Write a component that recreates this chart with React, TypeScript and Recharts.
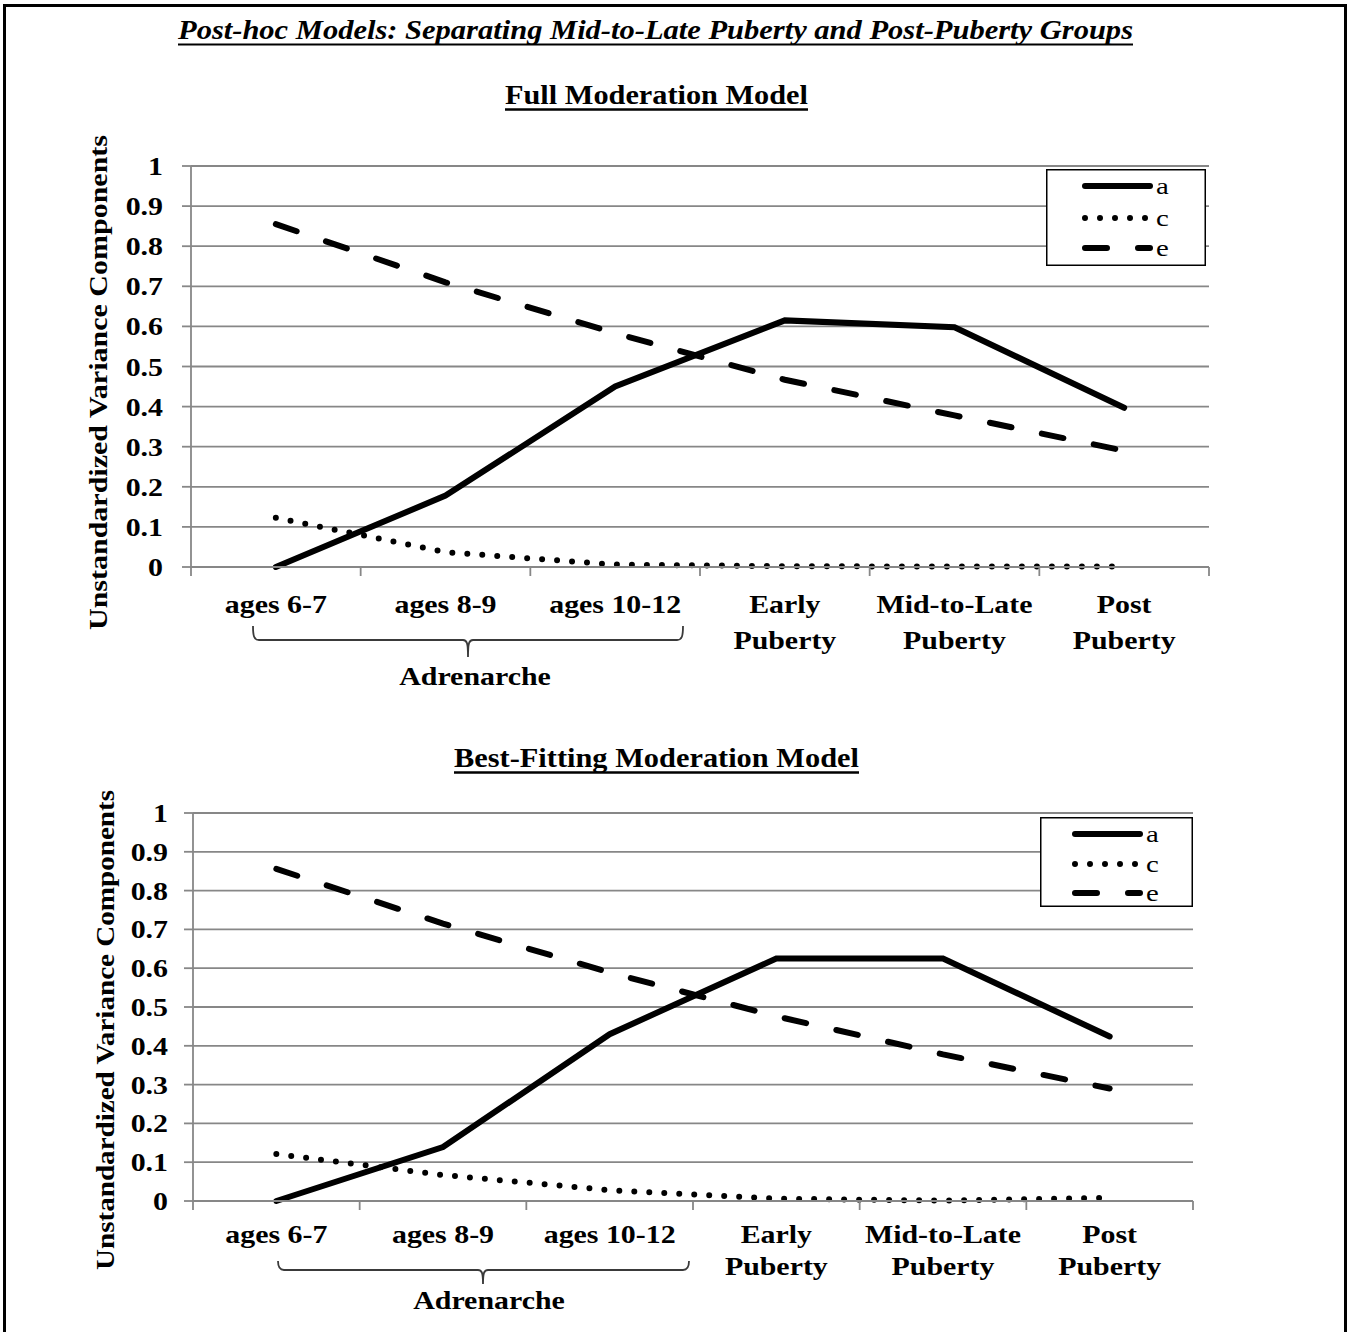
import React from "react";
import { LineChart, Line, XAxis, YAxis, CartesianGrid } from "recharts";

// categories shared by both panels ("\n" = second label line)
const CATEGORIES = ["ages 6-7", "ages 8-9", "ages 10-12", "Early\nPuberty", "Mid-to-Late\nPuberty", "Post\nPuberty"];

// Full Moderation Model
const FULL_A = [0, 0.178, 0.45, 0.615, 0.598, 0.397];
const FULL_C = [0.123, 0.037, 0.006, 0.002, 0.001, 0.001];
const FULL_E = [0.855, 0.71, 0.583, 0.467, 0.378, 0.29];

// Best-Fitting Moderation Model
const BEST_A = [0, 0.139, 0.43, 0.625, 0.625, 0.424];
const BEST_C = [0.121, 0.067, 0.028, 0.006, 0.001, 0.008];
const BEST_E = [0.856, 0.715, 0.589, 0.476, 0.378, 0.29];

const Y_TICKS = [0, 0.1, 0.2, 0.3, 0.4, 0.5, 0.6, 0.7, 0.8, 0.9, 1];
const SERIES_KEYS = ["a", "c", "e"];

const SERIF = '"Liberation Serif", "Times New Roman", serif';
const GRID = "#878787";
const STRETCH = 1.15;

const LINE_STYLE: any = {
  a: { strokeWidth: 6, strokeLinecap: "round" },
  c: { strokeWidth: 6, strokeDasharray: "0 15", strokeLinecap: "round" },
  e: { strokeWidth: 6, strokeDasharray: "22 31", strokeLinecap: "round" },
};

// boundaries get tick marks, centers get the labels
const X_TICKS = CATEGORIES.flatMap((_, i) => [i, i + 0.5]).concat(CATEGORIES.length);

const fmt = (v: number) => String(Math.round(v * 10) / 10);

function XTick({ x, y, payload, firstGap, lineGap }: any) {
  const v = payload.value;
  if (Number.isInteger(v)) {
    return <line x1={x} y1={y} x2={x} y2={y + 9} stroke={GRID} strokeWidth={1.8} />;
  }
  const lines = CATEGORIES[Math.floor(v)].split("\n");
  return (
    <g transform={`translate(${x},${y}) scale(${STRETCH},1)`}>
      {lines.map((t, i) => (
        <text key={i} x={0} y={firstGap + i * lineGap} textAnchor="middle" fontFamily={SERIF} fontWeight="bold" fontSize={26} fill="#000">
          {t}
        </text>
      ))}
    </g>
  );
}

function YTick({ x, y, payload }: any) {
  return (
    <text transform={`translate(${x},${y}) scale(${STRETCH},1)`} textAnchor="end" dy={9} fontFamily={SERIF} fontWeight="bold" fontSize={26} fill="#000">
      {fmt(payload.value)}
    </text>
  );
}

function Panel({ a, c, e, top, height, margin, yAxisWidth, xAxisHeight, tickMargin, firstGap, lineGap }: any) {
  const rows = CATEGORIES.map((label, i) => ({ pos: i + 0.5, label, a: a[i], c: c[i], e: e[i] }));
  return (
    <div style={{ position: "absolute", left: 0, top }}>
      <LineChart width={1351} height={height} data={rows} margin={margin}>
        <CartesianGrid vertical={false} stroke={GRID} strokeWidth={1.8} />
        <XAxis
          dataKey="pos"
          type="number"
          domain={[0, CATEGORIES.length]}
          ticks={X_TICKS}
          interval={0}
          height={xAxisHeight}
          tickLine={false}
          tickSize={0}
          tickMargin={0}
          axisLine={{ stroke: GRID, strokeWidth: 1.8 }}
          tick={(p: any) => <XTick {...p} firstGap={firstGap} lineGap={lineGap} />}
        />
        <YAxis
          type="number"
          domain={[0, 1]}
          ticks={Y_TICKS}
          interval={0}
          width={yAxisWidth}
          tickSize={9}
          tickMargin={tickMargin}
          tickLine={{ stroke: GRID, strokeWidth: 1.8 }}
          axisLine={{ stroke: GRID, strokeWidth: 1.8 }}
          tick={<YTick />}
        />
        {SERIES_KEYS.map((k) => (
          <Line key={k} dataKey={k} type="linear" stroke="#000" dot={false} activeDot={false} isAnimationActive={false} {...LINE_STYLE[k]} />
        ))}
      </LineChart>
    </div>
  );
}

function LegendBox({ left, top, width, height, rowY, x1, x2, textX }: any) {
  return (
    <svg width={width} height={height} style={{ position: "absolute", left, top }}>
      <rect x={0.75} y={0.75} width={width - 1.5} height={height - 1.5} fill="#fff" stroke="#000" strokeWidth={1.5} />
      {SERIES_KEYS.map((k, i) => (
        <g key={k}>
          <line x1={x1} y1={rowY[i]} x2={x2} y2={rowY[i]} stroke="#000" {...LINE_STYLE[k]} />
          <text transform={`translate(${textX},${rowY[i] + 8}) scale(1.2,1)`} fontFamily={SERIF} fontSize={24} fill="#000">
            {k}
          </text>
        </g>
      ))}
    </svg>
  );
}

function Bracket({ left, right, mid, topY, barY, tipY }: any) {
  const d = `M${left},${topY} C${left},${barY - 4} ${left + 1},${barY} ${left + 6},${barY} L${mid - 5},${barY} C${mid - 1},${barY} ${mid},${barY + 3} ${mid},${tipY} C${mid},${barY + 3} ${mid + 1},${barY} ${mid + 5},${barY} L${right - 6},${barY} C${right - 1},${barY} ${right},${barY - 4} ${right},${topY}`;
  return <path d={d} fill="none" stroke="#3a3a3a" strokeWidth={1.8} />;
}

export default function App() {
  const bold = { fontFamily: SERIF, fontWeight: "bold" as const, fill: "#000" };
  return (
    <div style={{ position: "absolute", left: 0, top: 0, width: 1351, height: 1332, overflow: "hidden", background: "#fff" }}>
      <Panel
        a={FULL_A} c={FULL_C} e={FULL_E}
        top={0} height={700}
        margin={{ top: 166, right: 142, bottom: 0, left: 0 }}
        yAxisWidth={191} xAxisHeight={133} tickMargin={19}
        firstGap={46} lineGap={36}
      />
      <Panel
        a={BEST_A} c={BEST_C} e={BEST_E}
        top={700} height={632}
        margin={{ top: 113, right: 158, bottom: 0, left: 0 }}
        yAxisWidth={193} xAxisHeight={131} tickMargin={16}
        firstGap={42} lineGap={32}
      />
      <LegendBox left={1046} top={169} width={160} height={97} rowY={[17, 49, 79]} x1={39} x2={104} textX={110} />
      <LegendBox left={1040} top={817} width={153} height={90} rowY={[17, 47, 76]} x1={35} x2={100} textX={106} />

      <svg width={1351} height={1332} style={{ position: "absolute", left: 0, top: 0, pointerEvents: "none" }}>
        <rect x={4.5} y={5.5} width={1341} height={1400} fill="none" stroke="#000" strokeWidth={3} />

        <text x={178} y={39} textLength={955} lengthAdjust="spacingAndGlyphs" fontSize={28} fontStyle="italic" {...bold}>
          Post-hoc Models: Separating Mid-to-Late Puberty and Post-Puberty Groups
        </text>
        <line x1={178} y1={44.5} x2={1133} y2={44.5} stroke="#000" strokeWidth={2} />

        <text x={505} y={104} textLength={303} lengthAdjust="spacingAndGlyphs" fontSize={27} {...bold}>
          Full Moderation Model
        </text>
        <line x1={505} y1={109.5} x2={808} y2={109.5} stroke="#000" strokeWidth={2.5} />

        <text x={454} y={767} textLength={405} lengthAdjust="spacingAndGlyphs" fontSize={27} {...bold}>
          Best-Fitting Moderation Model
        </text>
        <line x1={454} y1={772.5} x2={859} y2={772.5} stroke="#000" strokeWidth={2.5} />

        <text transform="translate(107,382.5) rotate(-90)" textAnchor="middle" textLength={495} lengthAdjust="spacingAndGlyphs" fontSize={26} {...bold}>
          Unstandardized  Variance  Components
        </text>
        <text transform="translate(114,1030) rotate(-90)" textAnchor="middle" textLength={480} lengthAdjust="spacingAndGlyphs" fontSize={25} {...bold}>
          Unstandardized  Variance  Components
        </text>

        <Bracket left={253} right={683} mid={468} topY={626} barY={640} tipY={657} />
        <text transform={`translate(475,685) scale(${STRETCH},1)`} textAnchor="middle" fontSize={26} {...bold}>
          Adrenarche
        </text>

        <Bracket left={278} right={689} mid={483} topY={1261} barY={1270} tipY={1284} />
        <text transform={`translate(489,1309) scale(${STRETCH},1)`} textAnchor="middle" fontSize={26} {...bold}>
          Adrenarche
        </text>
      </svg>
    </div>
  );
}
